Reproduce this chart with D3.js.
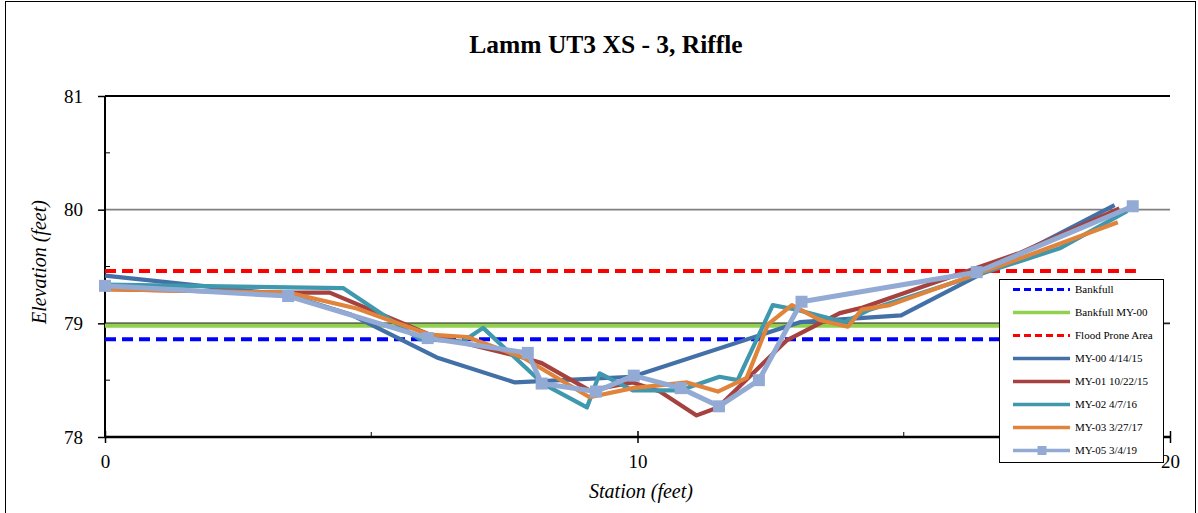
<!DOCTYPE html>
<html>
<head>
<meta charset="utf-8">
<script src="https://cdn.jsdelivr.net/npm/d3@7"></script>
<style>
  html, body { margin: 0; padding: 0; background: #fff; }
  svg { display: block; }
  text { font-family: "Liberation Serif", "Times New Roman", serif; fill: #000; }
</style>
</head>
<body>
<svg id="chart" width="1198" height="513"></svg>
<script>
// ---------- data ----------
const chartTitle = "Lamm UT3 XS - 3, Riffle";
const xTitle = "Station (feet)";
const yTitle = "Elevation (feet)";
const xTicks = [0, 10, 20];
const xMinorTicks = [5, 15];
const yTicks = [78, 79, 80, 81];
const yMinorTicks = [78.5, 79.5, 80.5];

const bankfullStation = [0, 19.36];
const bankfullElev = [78.86, 78.86];
const bankfullMY00Station = [0, 19.36];
const bankfullMY00Elev = [78.98, 78.98];
const floodProneStation = [0, 19.36];
const floodProneElev = [79.46, 79.46];

const my00Station = [0, 3.44, 4.6, 6.23, 7.7, 9.9, 13.05, 14.95, 18.96];
const my00Elev    = [79.42, 79.25, 79.08, 78.70, 78.48, 78.53, 79.01, 79.07, 80.04];

const my01Station = [0, 3.44, 4.22, 6.10, 7.85, 8.20, 9.10, 9.91, 10.42, 11.11, 11.51, 12.80, 13.80, 14.23, 17.18, 19.05];
const my01Elev    = [79.30, 79.27, 79.27, 78.90, 78.70, 78.65, 78.41, 78.48, 78.40, 78.19, 78.26, 78.85, 79.09, 79.14, 79.62, 80.01];

const my02Station = [0, 4.47, 5.91, 6.72, 7.10, 8.22, 9.05, 9.29, 9.91, 10.79, 11.54, 11.88, 12.54, 12.99, 13.89, 14.36, 17.93, 19.2];
const my02Elev    = [79.34, 79.31, 78.86, 78.84, 78.96, 78.47, 78.26, 78.56, 78.41, 78.41, 78.53, 78.50, 79.16, 79.12, 79.01, 79.12, 79.66, 79.99];

const my03Station = [0, 3.44, 4.73, 6.10, 6.80, 7.85, 9.10, 9.91, 10.93, 11.51, 12.05, 12.45, 12.90, 13.42, 13.95, 14.21, 14.74, 17.18, 19.02];
const my03Elev    = [79.30, 79.27, 79.13, 78.90, 78.88, 78.70, 78.35, 78.43, 78.48, 78.40, 78.52, 78.99, 79.16, 79.03, 78.97, 79.12, 79.16, 79.57, 79.89];

const my05Station = [0, 3.44, 6.06, 7.94, 8.20, 9.22, 9.93, 10.81, 11.53, 12.28, 13.08, 16.37, 19.30];
const my05Elev    = [79.33, 79.24, 78.87, 78.74, 78.47, 78.40, 78.54, 78.43, 78.27, 78.50, 79.19, 79.45, 80.03];

const seriesNames = ["Bankfull", "Bankfull MY-00", "Flood Prone Area", "MY-00 4/14/15", "MY-01 10/22/15", "MY-02 4/7/16", "MY-03 3/27/17", "MY-05 3/4/19"];
const seriesColors = ["#0000FF", "#92D050", "#FF0000", "#4470A8", "#A5423F", "#3F98AE", "#E0843C", "#92AAD4"];

// ---------- build ----------
const seriesStations = [bankfullStation, bankfullMY00Station, floodProneStation, my00Station, my01Station, my02Station, my03Station, my05Station];
const seriesElevs = [bankfullElev, bankfullMY00Elev, floodProneElev, my00Elev, my01Elev, my02Elev, my03Elev, my05Elev];
const seriesDash = [true, false, true, false, false, false, false, false];
const seriesMarker = [false, false, false, false, false, false, false, true];
const series = seriesNames.map((name, i) => ({
  name, color: seriesColors[i], dash: seriesDash[i], marker: seriesMarker[i],
  points: seriesStations[i].map((s, j) => ({ s, e: seriesElevs[i][j] }))
}));

const svg = d3.select("#chart");
const W = 1198, H = 513;
const plot = { left: 105, right: 1170, top: 96, bottom: 437 };

const x = d3.scaleLinear().domain([0, 20]).range([plot.left, plot.right]);
const y = d3.scaleLinear().domain([78, 81]).range([plot.bottom, plot.top]);

// outer border
svg.append("rect").attr("x", 5.5).attr("y", 1.5).attr("width", W - 8).attr("height", H + 10)
  .attr("fill", "#fff").attr("stroke", "#000").attr("stroke-width", 1);

// title
svg.append("text").attr("x", 606).attr("y", 53).attr("text-anchor", "middle")
  .style("font-size", "25.5px").style("font-weight", "bold").text(chartTitle);

// gridlines
const gridColor = { 79: "#222", 80: "#808080", 81: "#000" };
svg.append("g").selectAll("line").data(yTicks.filter(t => t > 78)).join("line")
  .attr("x1", plot.left).attr("x2", plot.right)
  .attr("y1", d => y(d)).attr("y2", d => y(d))
  .attr("stroke", d => gridColor[d]).attr("stroke-width", d => d === 81 ? 2 : 1.6);

// minor ticks (inside)
svg.append("g").selectAll("line").data(yMinorTicks).join("line")
  .attr("x1", plot.left).attr("x2", plot.left + 5)
  .attr("y1", d => y(d)).attr("y2", d => y(d)).attr("stroke", "#000").attr("stroke-width", 1);
svg.append("g").selectAll("line").data(xMinorTicks).join("line")
  .attr("x1", d => x(d)).attr("x2", d => x(d))
  .attr("y1", plot.bottom - 5).attr("y2", plot.bottom).attr("stroke", "#000").attr("stroke-width", 1);

// axes
const yAxis = svg.append("g").attr("transform", `translate(${plot.left},0)`)
  .call(d3.axisLeft(y).tickValues(yTicks).tickSize(7).tickPadding(15).tickFormat(d3.format("d")));
yAxis.select(".domain").attr("stroke", "#000").attr("stroke-width", 2).attr("d", `M0,${plot.top}V${plot.bottom}`);
yAxis.selectAll(".tick line").attr("stroke", "#000").attr("stroke-width", 1.5);
yAxis.selectAll(".tick text").style("font-size", "19px").style("font-family", "Liberation Serif, serif").attr("fill", "#000");

const xAxis = svg.append("g").attr("transform", `translate(0,${plot.bottom})`)
  .call(d3.axisBottom(x).tickValues(xTicks).tickSize(6).tickPadding(12).tickFormat(d3.format("d")));
xAxis.select(".domain").attr("stroke", "#000").attr("stroke-width", 2.5).attr("d", `M${plot.left},0H${plot.right}`);
xAxis.selectAll(".tick line").attr("stroke", "#000").attr("stroke-width", 1.5).attr("y1", -6);
xAxis.selectAll(".tick text").style("font-size", "19px").style("font-family", "Liberation Serif, serif").attr("fill", "#000");

// axis titles
svg.append("text").attr("x", 641).attr("y", 498).attr("text-anchor", "middle")
  .style("font-size", "20px").style("font-style", "italic").text(xTitle);
svg.append("text").attr("transform", "translate(46,262) rotate(-90)").attr("text-anchor", "middle")
  .style("font-size", "20px").style("font-style", "italic").text(yTitle);

// series
const line = d3.line().x(d => x(d.s)).y(d => y(d.e));
const gS = svg.append("g");
series.forEach(sr => {
  gS.append("path").datum(sr.points).attr("d", line)
    .attr("fill", "none").attr("stroke", sr.color)
    .attr("stroke-width", sr.dash ? 4 : (sr.marker ? 5 : 4.2))
    .attr("stroke-linejoin", "round")
    .attr("stroke-dasharray", sr.dash ? "11,6" : null);
  if (sr.marker) {
    gS.selectAll(null).data(sr.points).join("rect")
      .attr("x", d => x(d.s) - 6).attr("y", d => y(d.e) - 6)
      .attr("width", 12).attr("height", 12).attr("fill", sr.color);
  }
});

// legend
const lg = svg.append("g");
lg.append("rect").attr("x", 999.5).attr("y", 279.5).attr("width", 164).attr("height", 183)
  .attr("fill", "#fff").attr("stroke", "#000").attr("stroke-width", 1);
series.forEach((sr, i) => {
  const cy = 289.5 + i * 23;
  lg.append("line").attr("x1", 1013).attr("x2", 1070).attr("y1", cy).attr("y2", cy)
    .attr("stroke", sr.color).attr("stroke-width", sr.dash ? 3 : 3.5)
    .attr("stroke-dasharray", sr.dash ? "7,4" : null);
  if (sr.marker) {
    lg.append("rect").attr("x", 1037.5).attr("y", cy - 4.5).attr("width", 9).attr("height", 9).attr("fill", sr.color);
  }
  lg.append("text").attr("x", 1075).attr("y", cy).attr("dy", "0.35em")
    .style("font-size", "11px").text(sr.name);
});
</script>
</body>
</html>
